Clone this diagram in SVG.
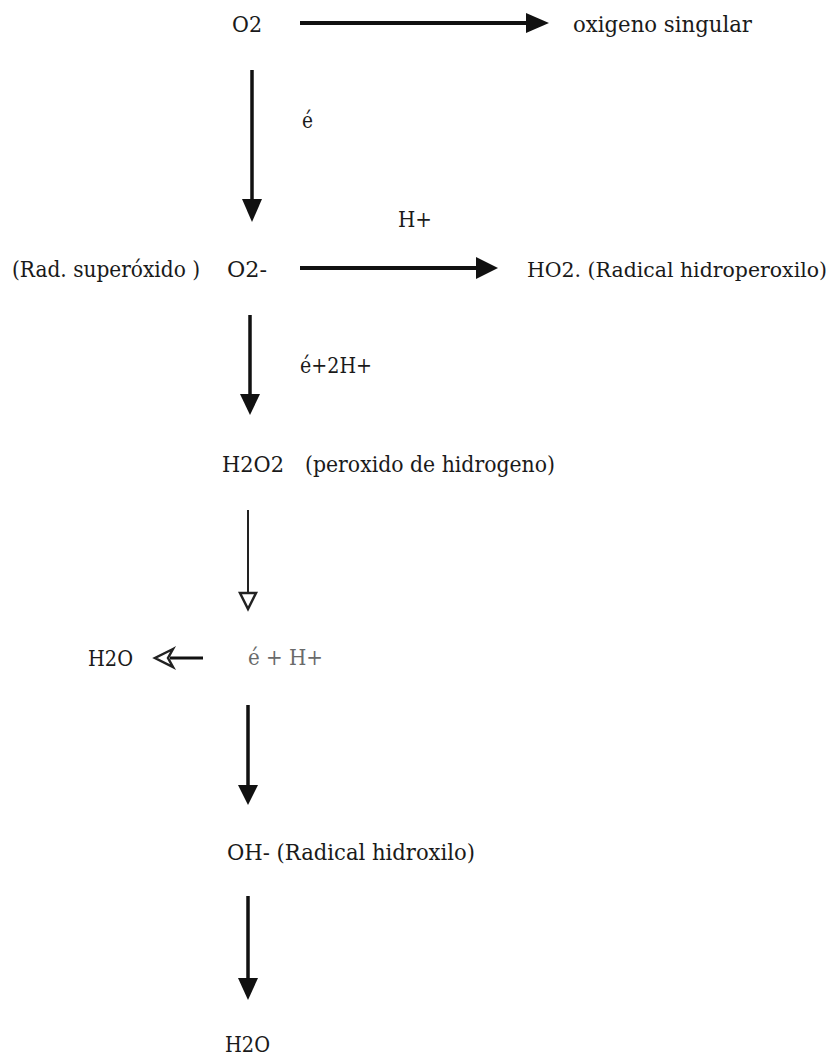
<svg xmlns="http://www.w3.org/2000/svg" width="840" height="1056" viewBox="0 0 840 1056">
  <style>
    .lbl { font-family: 'DejaVu Serif', 'Liberation Serif', serif; font-size: 22px; fill: #1a1a1a; }
    .faint { fill: #6a6a6a; }
    .shaft { stroke: #111; stroke-width: 3.5; fill: none; }
    .thin { stroke: #222; stroke-width: 2; fill: none; }
    .head { fill: #111; stroke: none; }
    .open { fill: #fff; stroke: #222; stroke-width: 2.5; stroke-linejoin: miter; }
  </style>
  <rect width="840" height="1056" fill="#fff"/>

  <!-- species and labels; widths pinned with textLength -->
  <g id="o2"><text class="lbl" x="232" y="32" textLength="30" lengthAdjust="spacingAndGlyphs">O2</text></g>
  <g id="singlet"><text class="lbl" x="573" y="32" textLength="179" lengthAdjust="spacingAndGlyphs">oxigeno singular</text></g>
  <g id="e1"><text class="lbl" x="302" y="128" textLength="11" lengthAdjust="spacingAndGlyphs">é</text></g>
  <g id="hplus"><text class="lbl" x="398" y="227" textLength="34" lengthAdjust="spacingAndGlyphs">H+</text></g>
  <g id="superoxide">
    <text class="lbl" x="12" y="277" textLength="188" lengthAdjust="spacingAndGlyphs">(Rad. superóxido )</text>
    <text class="lbl" x="227" y="277" textLength="40" lengthAdjust="spacingAndGlyphs">O2-</text>
  </g>
  <g id="hydroperoxyl"><text class="lbl" x="527" y="277" style="font-size:20.5px" textLength="300" lengthAdjust="spacingAndGlyphs">HO2. (Radical hidroperoxilo)</text></g>
  <g id="e2h"><text class="lbl" x="300" y="373" textLength="72" lengthAdjust="spacingAndGlyphs">é+2H+</text></g>
  <g id="peroxide">
    <text class="lbl" x="222" y="472" textLength="62" lengthAdjust="spacingAndGlyphs">H2O2</text>
    <text class="lbl" x="305" y="472" textLength="250" lengthAdjust="spacingAndGlyphs">(peroxido de hidrogeno)</text>
  </g>
  <g id="water-side"><text class="lbl" x="88" y="666" textLength="45" lengthAdjust="spacingAndGlyphs">H2O</text></g>
  <g id="eh"><text class="lbl faint" x="248" y="665" textLength="75" lengthAdjust="spacingAndGlyphs">é + H+</text></g>
  <g id="hydroxyl"><text class="lbl" x="227" y="860" textLength="248" lengthAdjust="spacingAndGlyphs">OH- (Radical hidroxilo)</text></g>
  <g id="water"><text class="lbl" x="225" y="1052" textLength="45" lengthAdjust="spacingAndGlyphs">H2O</text></g>

  <!-- connectors -->
  <g id="connectors">
    <!-- O2 -> oxigeno singular -->
    <line class="shaft" x1="300" y1="23" x2="530" y2="23" style="stroke-width:4"/>
    <polygon class="head" points="526,13 549,23 526,33"/>
    <!-- O2 -> O2- -->
    <line class="shaft" x1="252" y1="70" x2="252" y2="202"/>
    <polygon class="head" points="242,199 262,199 252,222"/>
    <!-- O2- -> HO2. -->
    <line class="shaft" x1="300" y1="268" x2="480" y2="268" style="stroke-width:4"/>
    <polygon class="head" points="476,257 498,268 476,279"/>
    <!-- O2- -> H2O2 -->
    <line class="shaft" x1="250" y1="315" x2="250" y2="397"/>
    <polygon class="head" points="240,394 260,394 250,415"/>
    <!-- H2O2 -> é + H+ -->
    <line class="thin" x1="248" y1="510" x2="248" y2="594"/>
    <polygon class="open" points="240,593 256,593 248,609"/>
    <!-- é + H+ -> H2O -->
    <line class="shaft" x1="170" y1="658" x2="203" y2="658" style="stroke-width:3"/>
    <polygon class="open" points="173,649 155,658 173,667 168,658"/>
    <!-- é + H+ -> OH- -->
    <line class="shaft" x1="248" y1="705" x2="248" y2="788"/>
    <polygon class="head" points="238,785 258,785 248,805"/>
    <!-- OH- -> H2O -->
    <line class="shaft" x1="248" y1="896" x2="248" y2="981"/>
    <polygon class="head" points="238,978 258,978 248,1000"/>
  </g>
</svg>
